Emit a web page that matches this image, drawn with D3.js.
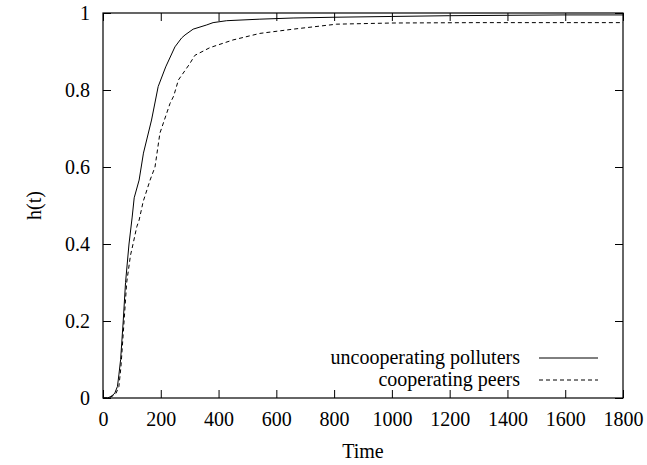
<!DOCTYPE html>
<html>
<head>
<meta charset="utf-8">
<script src="https://cdn.jsdelivr.net/npm/d3@7"></script>
<style>
  body { margin: 0; background: #fff; }
  text { font-family: "Liberation Serif", "Times New Roman", serif; fill: #000; }
</style>
</head>
<body>
<script>
// series: time vs h(t)
var polluterT = [0, 15, 25, 35, 41, 50, 55, 61, 70, 78, 90, 101, 108, 125, 140, 168, 191, 217, 249, 272, 284, 312, 359, 381, 428, 543, 658, 800, 1000, 1200, 1400, 1600, 1800];
var polluterH = [0, 0, 0.003, 0.008, 0.013, 0.03, 0.06, 0.1, 0.2, 0.3, 0.4, 0.47, 0.52, 0.566, 0.636, 0.722, 0.809, 0.86, 0.912, 0.935, 0.943, 0.958, 0.969, 0.975, 0.98, 0.984, 0.987, 0.989, 0.991, 0.993, 0.994, 0.995, 0.995];

var peerT = [0, 15, 25, 35, 45, 55, 62, 73, 82, 95, 104, 117, 125, 139, 163, 180, 197, 232, 245, 261, 300, 318, 370, 450, 543, 658, 809, 1000, 1305, 1800];
var peerH = [0, 0, 0.002, 0.006, 0.012, 0.03, 0.08, 0.2, 0.3, 0.37, 0.4, 0.445, 0.462, 0.51, 0.566, 0.6, 0.688, 0.765, 0.785, 0.826, 0.868, 0.89, 0.91, 0.93, 0.947, 0.958, 0.971, 0.974, 0.975, 0.975];

var xTicks = [0, 200, 400, 600, 800, 1000, 1200, 1400, 1600, 1800];
var yTicks = [0, 0.2, 0.4, 0.6, 0.8, 1];
var seriesNames = ["uncooperating polluters", "cooperating peers"];

var w = 647;
var h = 465;
var padL = 103, padR = 623, padT = 13, padB = 398;

var svg = d3.select("body")
            .append("svg")
            .attr("width", w)
            .attr("height", h);

var x = d3.scaleLinear().domain([0, 1800]).range([padL, padR]);
var y = d3.scaleLinear().domain([0, 1]).range([padB, padT]);

var fmt = function(d){ return String(d); };

// axes with inward ticks, mirrored on top and right
svg.append("g")
   .attr("transform", "translate(0," + padB + ")")
   .call(d3.axisBottom(x).tickValues(xTicks).tickSize(-8).tickPadding(14).tickFormat(fmt));
svg.append("g")
   .attr("transform", "translate(0," + padT + ")")
   .call(d3.axisTop(x).tickValues(xTicks).tickSize(-8).tickFormat(""));
svg.append("g")
   .attr("transform", "translate(" + padL + ",0)")
   .call(d3.axisLeft(y).tickValues(yTicks).tickSize(-8).tickPadding(13).tickFormat(fmt));
svg.append("g")
   .attr("transform", "translate(" + padR + ",0)")
   .call(d3.axisRight(y).tickValues(yTicks).tickSize(-8).tickFormat(""));

svg.selectAll(".domain").remove();
svg.selectAll(".tick line").attr("stroke", "#000").attr("stroke-width", 1);
svg.selectAll(".tick text")
   .style("font-family", "'Liberation Serif', serif")
   .style("font-size", "20px")
   .attr("fill", "#000");

svg.append("rect")
   .attr("x", padL).attr("y", padT)
   .attr("width", padR - padL).attr("height", padB - padT)
   .attr("fill", "none").attr("stroke", "#000").attr("stroke-width", 1.2);

var line = d3.line()
             .x(function(d){ return x(d[0]); })
             .y(function(d){ return y(d[1]); });

var polluters = d3.zip(polluterT, polluterH);
var peers = d3.zip(peerT, peerH);

svg.append("path")
   .attr("d", line(polluters))
   .attr("fill", "none")
   .attr("stroke", "#000")
   .attr("stroke-width", 1);

svg.append("path")
   .attr("d", line(peers))
   .attr("fill", "none")
   .attr("stroke", "#000")
   .attr("stroke-width", 1)
   .attr("stroke-dasharray", "4,3");

// legend
var legend = svg.append("g");
seriesNames.forEach(function(name, i){
  var ly = 358 + i * 22;
  legend.append("text")
        .attr("x", 520).attr("y", ly)
        .attr("dy", "0.32em")
        .attr("text-anchor", "end")
        .style("font-size", "20px")
        .text(name);
  legend.append("line")
        .attr("x1", 539).attr("x2", 598)
        .attr("y1", ly).attr("y2", ly)
        .attr("stroke", "#000")
        .attr("stroke-width", 1)
        .attr("stroke-dasharray", i === 1 ? "4,3" : null);
});

svg.append("text")
   .attr("x", (padL + padR) / 2)
   .attr("y", 452)
   .attr("dy", "0.32em")
   .attr("text-anchor", "middle")
   .style("font-size", "20px")
   .text("Time");

svg.append("text")
   .attr("transform", "translate(35," + ((padT + padB) / 2) + ") rotate(-90)")
   .attr("dy", "0.32em")
   .attr("text-anchor", "middle")
   .style("font-size", "20px")
   .text("h(t)");
</script>
</body>
</html>
